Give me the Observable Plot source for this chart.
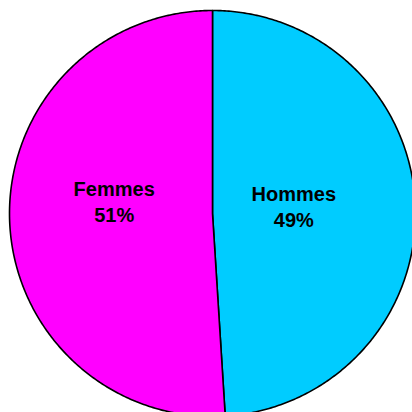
<!DOCTYPE html>
<html>
<head>
<meta charset="utf-8">
<script src="https://cdn.jsdelivr.net/npm/d3@7"></script>
<script src="https://cdn.jsdelivr.net/npm/@observablehq/plot@0.6"></script>
<style>
  html, body { margin: 0; padding: 0; background: #ffffff; }
  svg { display: block; }
</style>
</head>
<body>
<div id="chart"></div>
<script>
// Data
const categories = ["Hommes", "Femmes"];
const values = [49, 51];
const labels = ["Hommes\n49%", "Femmes\n51%"];
const colors = ["#00CCFF", "#FF00FF"];

// Build slice polygons from d3.pie angles (0 = 12 o'clock, clockwise)
const arcs = d3.pie().sort(null).value(d => d.value)(
  categories.map((name, i) => ({name, value: values[i], label: labels[i]}))
);
const points = [];
for (const a of arcs) {
  const n = Math.max(2, Math.ceil((a.endAngle - a.startAngle) / 0.01));
  points.push({name: a.data.name, x: 0, y: 0});
  for (let k = 0; k <= n; k++) {
    const t = a.startAngle + (a.endAngle - a.startAngle) * k / n;
    points.push({name: a.data.name, x: Math.sin(t), y: Math.cos(t)});
  }
  points.push({name: a.data.name, x: 0, y: 0});
}
const labelRadius = 0.45;
const labelData = arcs.map(a => {
  const m = (a.startAngle + a.endAngle) / 2;
  return {name: a.data.name, label: a.data.label, x: labelRadius * Math.sin(m), y: labelRadius * Math.cos(m)};
});

// Layout: circle radius in px and centre in px
const R = 203, cx = 212, cy = 213, W = 412, H = 412;

const textStyle = {
  x: "x", y: "y", text: "label",
  fontFamily: "'Liberation Sans', Arial, sans-serif",
  fontWeight: "bold", fontSize: 20, fill: "#000000",
  lineHeight: 1.3, textAnchor: "middle"
};

const chart = Plot.plot({
  width: W,
  height: H,
  margin: 0,
  style: {background: "#ffffff"},
  x: {domain: [-cx / R, (W - cx) / R], axis: null},
  y: {domain: [-(H - cy) / R, cy / R], axis: null},
  color: {domain: categories, range: colors},
  marks: [
    Plot.line(points, {x: "x", y: "y", z: "name", fill: "name", stroke: "#000000", strokeWidth: 1.6, curve: "linear", strokeLinejoin: "round"}),
    Plot.text(labelData.filter(d => d.name === "Hommes"), {...textStyle, dx: -10, dy: -5}),
    Plot.text(labelData.filter(d => d.name === "Femmes"), {...textStyle, dx: -7, dy: -16})
  ]
});
document.getElementById("chart").appendChild(chart);
</script>
</body>
</html>
